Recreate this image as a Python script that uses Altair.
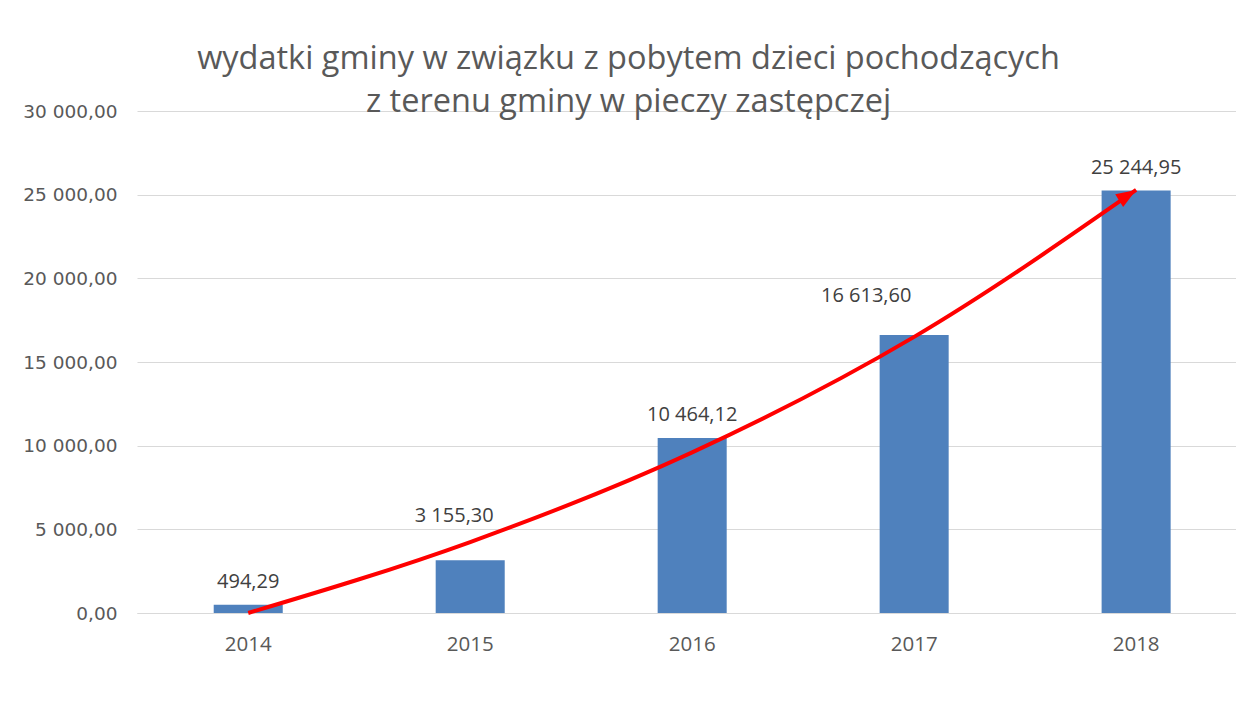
import altair as alt
import pandas as pd

# ---- data ----
years = ["2014", "2015", "2016", "2017", "2018"]
values = [494.29, 3155.30, 10464.12, 16613.60, 25244.95]

# hand-drawn red trend arrow (value at each year centre)
trend_years = ["2014", "2015", "2016", "2017", "2018"]
trend_values = [0, 4240, 9600, 16500, 25280]

y_ticks = [0, 5000, 10000, 15000, 20000, 25000, 30000]
title_lines = [
    "wydatki gminy w związku z pobytem dzieci  pochodzących",
    "z terenu gminy w pieczy zastępczej",
]


def pl(v):
    return f"{v:,.2f}".replace(",", " ").replace(".", ",")


bars_df = pd.DataFrame({"year": years, "value": values, "label": [pl(v) for v in values]})
trend_df = pd.DataFrame({"year": trend_years, "value": trend_values})
tip_df = trend_df.tail(1)

x_enc = alt.X(
    "year:N",
    title=None,
    sort=years,
    scale=alt.Scale(paddingInner=0.689, paddingOuter=0.32, align=0.54),
    axis=alt.Axis(
        labelAngle=0,
        ticks=False,
        domain=True,
        domainColor="#d9d9d9",
        domainWidth=1,
        labelFont="Open Sans",
        labelFontSize=20.5,
        labelColor="#595959",
        labelPadding=21,
        grid=False,
    ),
)
y_enc = alt.Y(
    "value:Q",
    title=None,
    scale=alt.Scale(domain=[0, 30000], nice=False),
    axis=alt.Axis(
        values=y_ticks,
        labelExpr="replace(replace(format(datum.value, ',.2f'), ',', ' '), '.', ',')",
        domain=False,
        ticks=False,
        grid=True,
        gridColor="#d9d9d9",
        gridWidth=1,
        labelPadding=20,
        labelFont="DejaVu Sans",
        labelFontSize=18.5,
        labelColor="#595959",
    ),
)

base = alt.Chart(bars_df)
bars = base.mark_bar(color="#4F81BD").encode(x=x_enc, y=y_enc)

label_style = dict(font="Open Sans", fontSize=20, color="#404040", baseline="alphabetic")
labels_main = base.transform_filter(
    alt.FieldOneOfPredicate(field="year", oneOf=["2014", "2016", "2018"])
).mark_text(dy=-17, **label_style).encode(x="year:N", y="value:Q", text="label:N")
labels_2015 = base.transform_filter(alt.datum.year == "2015").mark_text(
    dx=-16, dy=-38, **label_style
).encode(x="year:N", y="value:Q", text="label:N")
labels_2017 = base.transform_filter(alt.datum.year == "2017").mark_text(
    dx=-48, dy=-33, **label_style
).encode(x="year:N", y="value:Q", text="label:N")

trend = alt.Chart(trend_df).mark_line(
    color="#FF0000", strokeWidth=4, interpolate="monotone"
).encode(x="year:N", y="value:Q")

arrow = alt.Chart(tip_df).mark_point(
    shape="M0,0 L-2,-0.75 L-2,0.75 Z",
    filled=True,
    color="#FF0000",
    opacity=1,
    size=400,
    angle=328,
).encode(x="year:N", y="value:Q")

chart = (
    alt.layer(bars, labels_main, labels_2015, labels_2017, trend, arrow)
    .properties(
        width=1099,
        height=502,
        autosize=alt.AutoSizeParams(type="none"),
        padding={"left": 137, "top": 111, "right": 0, "bottom": 96},
        title=alt.TitleParams(
            text=title_lines,
            font="Open Sans",
            fontSize=32.5,
            fontWeight="normal",
            color="#595959",
            lineHeight=43,
            anchor="middle",
            dx=-58,
            offset=-16,
        ),
        background="white",
    )
    .configure_view(stroke=None)
)

chart.save("out.html", embed_options={"renderer": "svg", "actions": False})
